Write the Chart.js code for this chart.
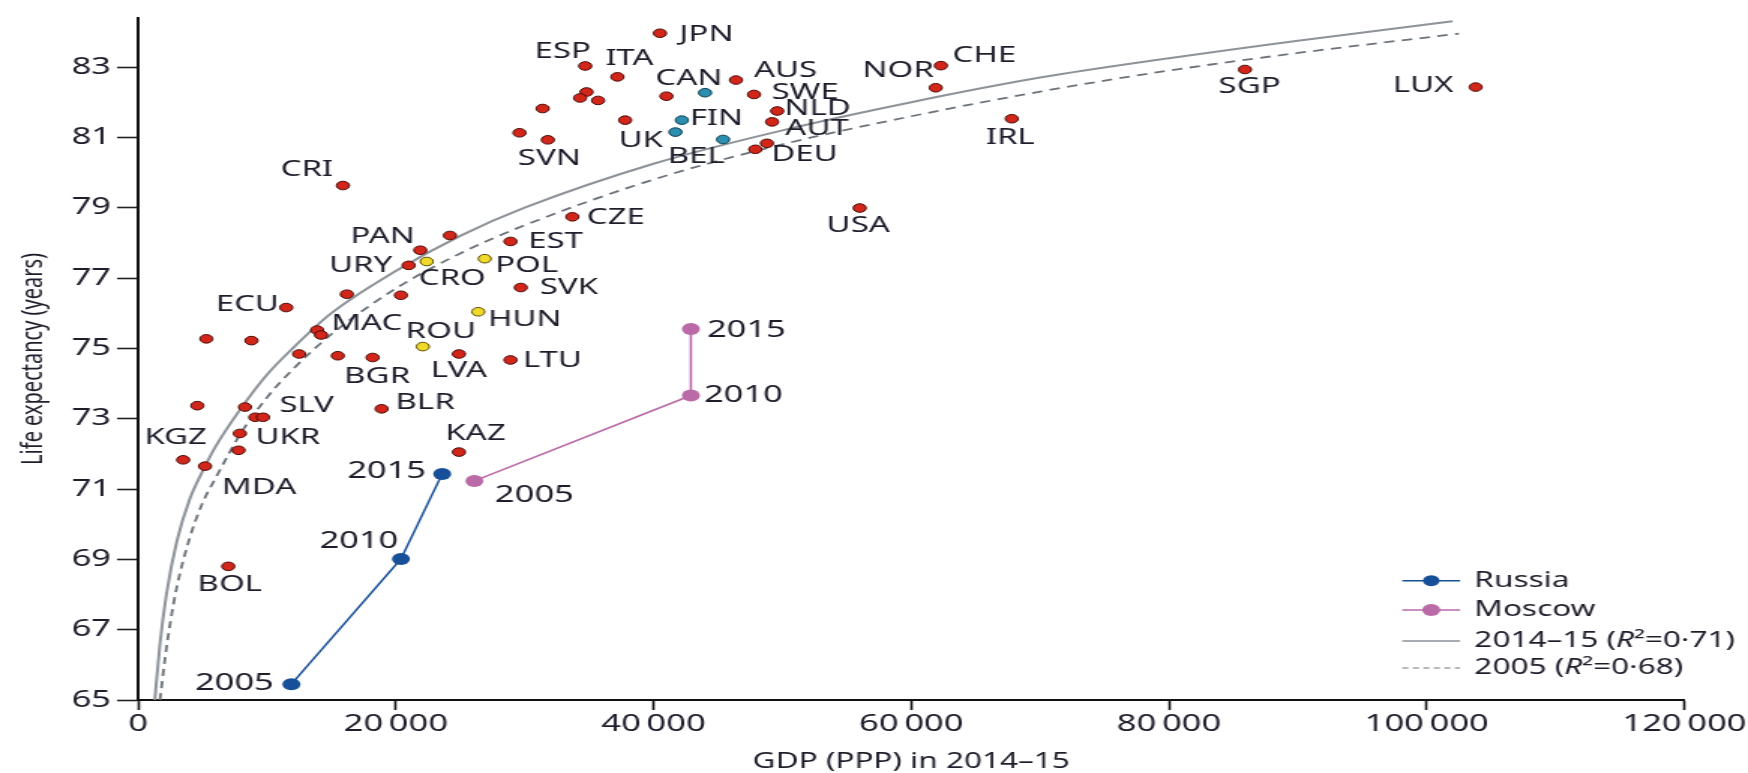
<!DOCTYPE html>
<html>
<head>
<meta charset="utf-8">
<script src="https://cdn.jsdelivr.net/npm/chart.js@4.4.1/dist/chart.umd.min.js"></script>
<style>
  html, body { margin: 0; padding: 0; background: #fff; overflow: hidden; }
  /* the figure is laid out narrow and widened, as in the printed version */
  #wrap { position: absolute; left: 0; top: 0; width: 1165px; height: 773px;
          transform: scaleX(1.50043); transform-origin: 0 0; }
</style>
</head>
<body>
<div id="wrap"><canvas id="c"></canvas></div>
<script>
// Countries, 2014–15: GDP (PPP, US$) and life expectancy (years)
const countryCodes = ['JPN','ESP','ITA','','','','','','SVN','CAN','','AUS','SWE','NLD','AUT','','FIN','UK','BEL','DEU','',
  'NOR','CHE','IRL','USA','SGP','LUX','CRI','CZE','','PAN','EST','URY','CRO','POL','SVK','','','ECU','HUN','MAC','',
  '','','ROU','','','BGR','LVA','LTU','','','','SLV','BLR','UKR','KGZ','MDA','','KAZ','BOL'];
const countryGdp = [40500,34700,37200,34800,34300,35700,31400,29600,31800,41000,44000,46400,47800,49600,49200,37800,42200,41700,45400,48800,47900,
  61900,62300,67800,56000,85900,103800,15900,33700,24200,21900,28900,21000,22400,26900,29700,16200,20400,11500,26400,13900,14200,
  5300,8800,22100,12500,15500,18200,24900,28900,4600,8300,9100,9700,18900,7900,3500,5200,7800,24900,7000];
const countryLife = [83.96,83.03,82.72,82.29,82.12,82.05,81.82,81.13,80.93,82.17,82.27,82.63,82.22,81.75,81.44,81.49,81.49,81.15,80.94,80.83,80.66,
  82.41,83.04,81.53,78.99,82.93,82.43,79.63,78.74,78.21,77.79,78.04,77.36,77.47,77.55,76.73,76.54,76.51,76.16,76.04,75.52,75.38,
  75.27,75.22,75.05,74.84,74.79,74.74,74.84,74.67,73.37,73.33,73.04,73.04,73.28,72.58,71.83,71.65,72.10,72.05,68.80];
// r = other countries, t = highlighted western Europe, y = highlighted central Europe
const countryGroup = ['r','r','r','r','r','r','r','r','r','r','t','r','r','r','r','r','t','t','t','r','r',
  'r','r','r','r','r','r','r','r','r','r','r','r','y','y','r','r','r','r','y','r','r',
  'r','r','y','r','r','r','r','r','r','r','r','r','r','r','r','r','r','r','r'];

// Russia and Moscow trajectories
const trackYears = ['2005','2010','2015'];
const russiaGdp = [11900, 20400, 23600];
const russiaLife = [65.45, 69.01, 71.43];
const moscowGdp = [26100, 42900, 42900];
const moscowLife = [71.23, 73.66, 75.55];

// Logarithmic fit curves
const fit2015Gdp = [1300,1700,2200,3000,4000,5000,6000,8000,10000,12000,15000,20000,25000,30000,40000,50000,60000,70000,80000,90000,102000];
const fit2015Life = [65.0,66.6,68.0,69.5,70.7,71.5,72.2,73.3,74.25,75.0,76.0,77.2,78.2,79.0,80.25,81.2,82.0,82.7,83.25,83.75,84.3];
const fit2005Gdp = [1700,2100,2500,3000,4000,5000,6000,8000,10000,12000,15000,20000,25000,30000,40000,50000,60000,70000,80000,90000,102500];
const fit2005Life = [65.0,66.2,67.2,68.2,69.6,70.6,71.3,72.6,73.6,74.4,75.4,76.7,77.7,78.5,79.8,80.8,81.6,82.3,82.9,83.4,83.95];

const xTicks = [0,20000,40000,60000,80000,100000,120000];
const yTicks = [65,67,69,71,73,75,77,79,81,83];

const legendNames = ['Russia','Moscow','2014–15 (R²=0·71)','2005 (R²=0·68)'];

// Label placement (px from the mark)
const countryLabelOffset = {
  JPN:[31,1], ESP:[-15,-14], ITA:[8,-18], SVN:[1,19], CAN:[15,-17], AUS:[33,-9], SWE:[34,-2], NLD:[27,-2],
  AUT:[30,7], FIN:[23,-1], UK:[-23,9], BEL:[-18,17], DEU:[25,11], NOR:[-25,-17], CHE:[29,-10], IRL:[-1,19],
  USA:[-1,18], SGP:[3,17], LUX:[-35,-1], CRI:[-24,-16], CZE:[29,1], PAN:[-25,-14], EST:[30,0], URY:[-32,0],
  CRO:[17,17], POL:[28,7], SVK:[32,0], ECU:[-26,-3], HUN:[31,8], MAC:[33,-6], ROU:[12,-15], BGR:[3,19],
  LVA:[0,17], LTU:[28,1], SLV:[29,-12], BLR:[29,-6], UKR:[32,4], KGZ:[-5,-22], MDA:[36,22], KAZ:[11,-18], BOL:[1,18]
};
const russiaLabelOffset = [[-38,-1],[-28,-18],[-37,-2]];
const moscowLabelOffset = [[40,15],[35,0],[37,1]];

const FONT = '"Noto Sans", "Open Sans", sans-serif';
const INK = '#1d1d2b';
const groupFill = { r: '#d3261b', t: '#2b8fb0', y: '#efd92a' };
const groupEdge = { r: '#4a0a05', t: '#0d3d50', y: '#5a4a00' };
const RUSSIA = '#174f98';
const MOSCOW = '#b96aa7';

const pts = (xs, ys) => xs.map((x, i) => ({ x: x, y: ys[i] }));

const markLabels = {
  id: 'markLabels',
  afterDatasetsDraw(chart) {
    const ctx = chart.ctx;
    ctx.save();
    ctx.fillStyle = INK;
    ctx.textAlign = 'center';
    ctx.textBaseline = 'middle';
    ctx.font = '22px ' + FONT;
    const m0 = chart.getDatasetMeta(0);
    countryCodes.forEach((code, i) => {
      if (!code) return;
      const off = countryLabelOffset[code] || [0, 0];
      const el = m0.data[i];
      ctx.fillText(code, el.x + off[0], el.y + off[1]);
    });
    ctx.font = '23px ' + FONT;
    [[1, russiaLabelOffset], [2, moscowLabelOffset]].forEach(([di, offs]) => {
      const meta = chart.getDatasetMeta(di);
      trackYears.forEach((yr, i) => {
        const el = meta.data[i];
        ctx.fillText(yr, el.x + offs[i][0], el.y + offs[i][1]);
      });
    });
    ctx.restore();
  }
};

// Key in the lower right corner of the plot
const cornerKey = {
  id: 'cornerKey',
  afterDraw(chart) {
    const ctx = chart.ctx;
    const a = chart.chartArea;
    const x0 = a.right - 188, x1 = a.right - 149.5, tx = a.right - 140;
    const rows = [a.bottom - 119.3, a.bottom - 90, a.bottom - 59, a.bottom - 32];
    ctx.save();
    // Russia
    ctx.strokeStyle = RUSSIA; ctx.lineWidth = 1.5; ctx.setLineDash([]);
    ctx.beginPath(); ctx.moveTo(x0, rows[0]); ctx.lineTo(x1, rows[0]); ctx.stroke();
    ctx.fillStyle = RUSSIA; ctx.beginPath(); ctx.arc((x0 + x1) / 2, rows[0], 5.5, 0, Math.PI * 2); ctx.fill();
    // Moscow
    ctx.strokeStyle = MOSCOW;
    ctx.beginPath(); ctx.moveTo(x0, rows[1]); ctx.lineTo(x1, rows[1]); ctx.stroke();
    ctx.fillStyle = MOSCOW; ctx.beginPath(); ctx.arc((x0 + x1) / 2, rows[1], 6, 0, Math.PI * 2); ctx.fill();
    // fits
    ctx.strokeStyle = '#4f5a66'; ctx.lineWidth = 1.2;
    ctx.beginPath(); ctx.moveTo(x0, rows[2]); ctx.lineTo(x1, rows[2]); ctx.stroke();
    ctx.strokeStyle = '#6c737b'; ctx.setLineDash([4, 3]);
    ctx.beginPath(); ctx.moveTo(x0, rows[3]); ctx.lineTo(x1, rows[3]); ctx.stroke();
    ctx.setLineDash([]);
    // texts, with an italic R
    ctx.fillStyle = INK; ctx.textBaseline = 'middle'; ctx.textAlign = 'left';
    legendNames.forEach((name, i) => {
      const upright = '21px ' + FONT, slanted = 'italic 21px ' + FONT;
      const k = name.indexOf('R²');
      let x = tx;
      if (k < 0) { ctx.font = upright; ctx.fillText(name, x, rows[i]); return; }
      const parts = [[name.slice(0, k), upright], ['R', slanted], [name.slice(k + 1), upright]];
      parts.forEach(([s, f]) => { ctx.font = f; ctx.fillText(s, x, rows[i]); x += ctx.measureText(s).width; });
    });
    ctx.restore();
  }
};

new Chart(document.getElementById('c'), {
  type: 'scatter',
  data: {
    datasets: [
      {
        label: 'Countries',
        data: pts(countryGdp, countryLife),
        pointRadius: 4.3,
        pointBorderWidth: 1,
        pointBackgroundColor: countryGroup.map(g => groupFill[g]),
        pointBorderColor: countryGroup.map(g => groupEdge[g])
      },
      {
        label: legendNames[0],
        data: pts(russiaGdp, russiaLife),
        showLine: true,
        borderColor: RUSSIA, borderWidth: 1.5,
        pointRadius: 6, pointBorderWidth: 0,
        pointBackgroundColor: RUSSIA
      },
      {
        label: legendNames[1],
        data: pts(moscowGdp, moscowLife),
        showLine: true,
        borderColor: MOSCOW, borderWidth: 1.6,
        pointRadius: 6, pointBorderWidth: 0,
        pointBackgroundColor: MOSCOW
      },
      {
        label: legendNames[2],
        data: pts(fit2015Gdp, fit2015Life),
        showLine: true, cubicInterpolationMode: 'monotone',
        borderColor: '#8d9399', borderWidth: 2,
        pointRadius: 0
      },
      {
        label: legendNames[3],
        data: pts(fit2005Gdp, fit2005Life),
        showLine: true, cubicInterpolationMode: 'monotone',
        borderColor: '#6c737b', borderWidth: 1.8, borderDash: [7, 5],
        pointRadius: 0
      }
    ]
  },
  options: {
    responsive: true,
    maintainAspectRatio: false,
    animation: false,
    events: [],
    layout: { padding: { top: 15, right: 40.3, left: 0, bottom: 0 } },
    plugins: { legend: { display: false }, tooltip: { enabled: false } },
    scales: {
      x: {
        type: 'linear', min: 0, max: 120000,
        afterBuildTicks: s => { s.ticks = xTicks.map(v => ({ value: v })); },
        afterFit: s => { s.height = 73; },
        ticks: {
          font: { family: FONT, size: 23 }, color: INK, padding: 1,
          maxRotation: 0, autoSkip: false,
          callback: v => v === 0 ? '0' : (v / 1000) + '\u2009000'
        },
        grid: { display: true, drawOnChartArea: false, drawTicks: true, tickLength: 10, tickWidth: 1.6, tickColor: '#111' },
        border: { display: true, color: '#111', width: 2 },
        title: { display: true, text: 'GDP (PPP) in 2014–15', color: INK,
                 font: { family: FONT, size: 21, lineHeight: 1 }, padding: { top: 0, bottom: 0 } }
      },
      y: {
        type: 'linear', min: 65, max: 84.4,
        afterBuildTicks: s => { s.ticks = yTicks.map(v => ({ value: v })); },
        afterFit: s => { s.width = 92; },
        ticks: { font: { family: FONT, size: 23 }, color: INK, padding: 4 },
        grid: { display: true, drawOnChartArea: false, drawTicks: true, tickLength: 14, tickWidth: 1.6, tickColor: '#222' },
        border: { display: true, color: '#111', width: 2 },
        title: { display: true, text: 'Life expectancy (years)', color: INK,
                 font: { family: FONT, size: 20, lineHeight: 1 }, padding: { top: 12, bottom: 0 } }
      }
    }
  },
  plugins: [markLabels, cornerKey]
});
</script>
</body>
</html>
